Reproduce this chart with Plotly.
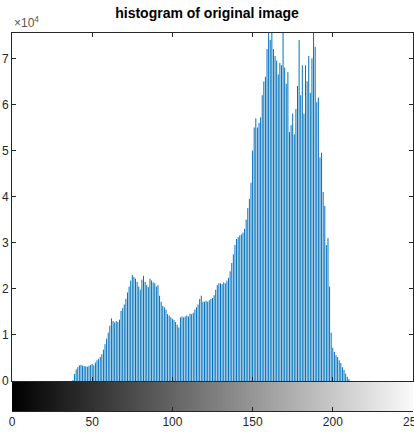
import plotly.graph_objects as go

title_text = "histogram of original image"
exponent_label = "×10<sup>4</sup>"

gray_levels = list(range(256))
first_level = 38
counts_nonzero = [
    200, 1500, 2500, 3000, 3400, 3500, 3300, 3200, 3200, 3100,
    3300, 3500, 3700, 3400, 4000, 4500, 4800, 5200, 5800, 6800,
    8000, 9200, 10500, 12000, 13600, 13000, 12700, 13000, 12800, 13300,
    15200, 15800, 16600, 17800, 19200, 20500, 21800, 23000, 22600, 22200,
    21500, 20500, 19800, 22000, 22800, 21500, 20800, 20400, 22200, 21800,
    21400, 21200, 20500, 20800, 18500, 17200, 16300, 16000, 15500, 14500,
    14200, 13800, 13500, 13200, 12800, 12200, 11600, 13800, 14000, 13800,
    14000, 14200, 14000, 14600, 14500, 14800, 15500, 16000, 16600, 17800,
    18500, 17200, 17200, 17400, 17200, 17500, 17800, 18000, 18600, 19800,
    20800, 21200, 21200, 21000, 21400, 21200, 21800, 22400, 23800, 25600,
    27500, 29500, 30800, 31200, 31600, 31800, 32200, 33000, 35000, 37500,
    39500, 43000, 50000, 55000, 57000, 55000, 56000, 57200, 62000, 65000,
    66000, 72000, 77000, 74000, 78000, 72000, 70500, 69500, 66500, 69000,
    68500, 77000, 68000, 64500, 67000, 54000, 55500, 58000, 53500, 59000,
    64000, 74000, 62000, 68500, 58000, 68500, 65000, 70500, 62500, 70000,
    78000, 72500, 60500, 61500, 48500, 49500, 41000, 38000, 29500, 31000,
    20500, 10500, 7200, 6300, 5600, 5200, 4500, 3900, 3000, 2400,
    1600, 900, 400,
]
counts = [0] * 256
for i, v in enumerate(counts_nonzero):
    counts[first_level + i] = v

x_tick_vals = [0, 50, 100, 150, 200, 250]
x_tick_text = ["0", "50", "100", "150", "200", "250"]
y_tick_vals = [0, 10000, 20000, 30000, 40000, 50000, 60000, 70000]
y_tick_text = ["0", "1", "2", "3", "4", "5", "6", "7"]

axis_color = "#262626"
font_family = "Liberation Sans, Arial, sans-serif"

# stem lines (MATLAB imhist style): one vertical segment per gray level
stem_x, stem_y = [], []
for g, c in zip(gray_levels, counts):
    if c > 0:
        stem_x += [g, g, None]
        stem_y += [0, c, None]

fig = go.Figure()
fig.add_trace(go.Scatter(
    x=stem_x, y=stem_y, mode="lines",
    line=dict(color="#0072BD", width=1),
    xaxis="x", yaxis="y", showlegend=False, hoverinfo="skip",
))
fig.add_trace(go.Heatmap(
    x=gray_levels, y=[0], z=[gray_levels],
    colorscale=[[0, "#000000"], [1, "#ffffff"]], zmin=0, zmax=255,
    showscale=False, xaxis="x2", yaxis="y2", hoverinfo="skip",
))

W, H = 414, 432
top, bottom = 33, 21
plot_h = H - top - bottom
hist_bottom_px = 381
cbar_top_px = 382
x_range = [0, 250]

fig.update_layout(
    width=W, height=H,
    margin=dict(l=12, r=1, t=top, b=bottom, pad=0, autoexpand=False),
    paper_bgcolor="white", plot_bgcolor="white",
    font=dict(family=font_family, size=12, color=axis_color),
    xaxis=dict(
        range=x_range, domain=[0, 1], anchor="y", automargin=False,
        tickvals=x_tick_vals, showticklabels=False,
        ticks="inside", ticklen=4, tickcolor=axis_color,
        showline=True, linecolor=axis_color, linewidth=1, mirror="ticks",
        showgrid=False, zeroline=False,
    ),
    yaxis=dict(
        range=[0, 75500], automargin=False,
        domain=[(H - bottom - hist_bottom_px) / plot_h, 1], anchor="x",
        tickvals=y_tick_vals, ticktext=y_tick_text,
        ticks="inside", ticklen=4, tickcolor=axis_color,
        showline=True, linecolor=axis_color, linewidth=1, mirror="ticks",
        showgrid=False, zeroline=False, ticklabeloverflow="allow",
        tickfont=dict(size=12, color=axis_color),
    ),
    xaxis2=dict(
        range=x_range, domain=[0, 1], anchor="y2", automargin=False,
        tickvals=x_tick_vals, ticktext=x_tick_text,
        ticks="inside", ticklen=4, tickcolor=axis_color,
        showline=True, linecolor=axis_color, linewidth=1, mirror=True,
        showgrid=False, zeroline=False, ticklabeloverflow="allow",
        tickfont=dict(size=12, color=axis_color),
    ),
    yaxis2=dict(
        range=[-0.5, 0.5], domain=[0, (H - bottom - cbar_top_px) / plot_h],
        anchor="x2", showticklabels=False, ticks="", showgrid=False,
        zeroline=False, showline=False, automargin=False,
    ),
    title=dict(
        text="<b>" + title_text + "</b>", x=0.5, xanchor="center",
        y=1 - 13 / H, yanchor="middle", automargin=False,
        font=dict(size=14, color="black", family=font_family),
    ),
    annotations=[dict(
        text=exponent_label, xref="paper", yref="paper",
        x=0, y=1, xanchor="left", yanchor="bottom", yshift=1,
        showarrow=False, font=dict(size=12, color="#555555"),
    )],
)

post_js = (
    "document.documentElement.style.overflow='hidden';"
    "document.body.style.margin='0';"
    "document.body.style.overflow='hidden';"
)

fig.write_html(
    "out.html",
    config={"displayModeBar": False},
    post_script=post_js,
)
